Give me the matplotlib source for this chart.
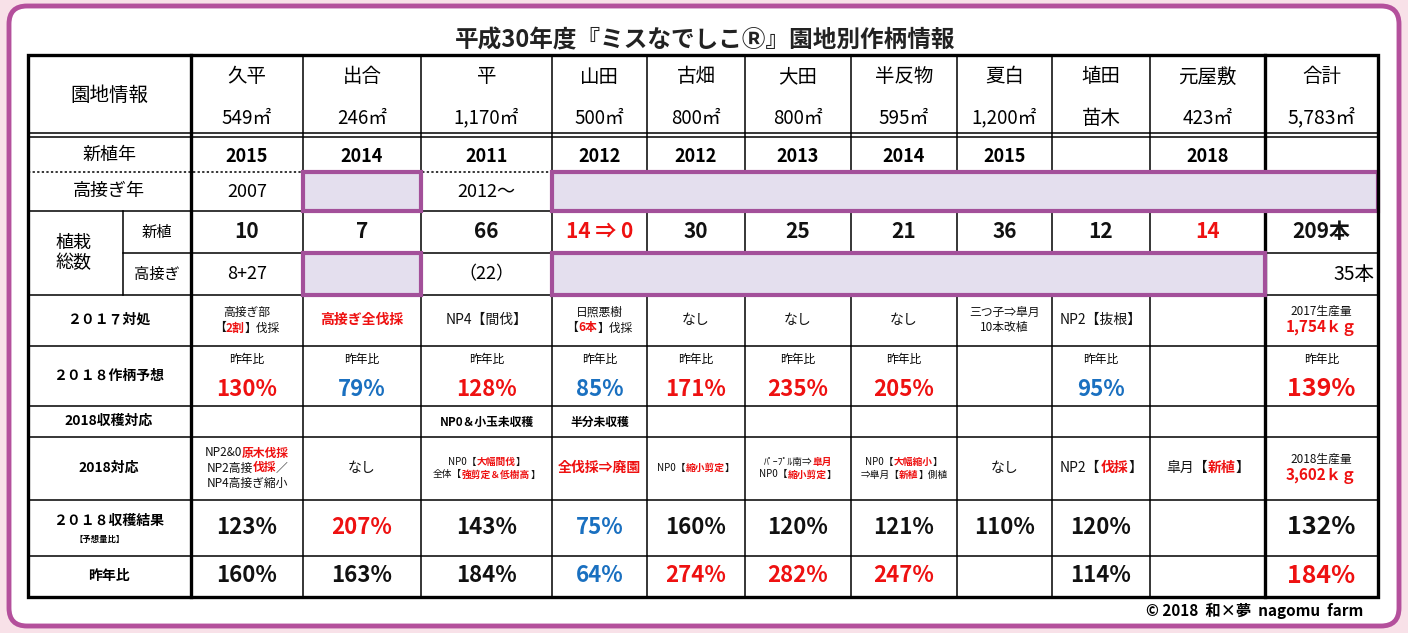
import matplotlib
matplotlib.use("Agg")
import matplotlib.pyplot as plt
from matplotlib.patches import FancyBboxPatch, Rectangle

plt.rcParams['font.family'] = ['Noto Sans CJK JP', 'DejaVu Sans']

R, B, K = '#ee1111', '#1a70c0', '#111111'

farms = ['久平', '出合', '平', '山田', '古畑', '大田', '半反物', '夏白', '埴田', '元屋敷', '合計']
areas = ['549㎡', '246㎡', '1,170㎡', '500㎡', '800㎡', '800㎡', '595㎡', '1,200㎡', '苗木', '423㎡', '5,783㎡']
plant_year = ['2015', '2014', '2011', '2012', '2012', '2013', '2014', '2015', '', '2018', '']
graft_year = ['2007', '', '2012～', '', '', '', '', '', '', '', '']
new_plants = ['10', '7', '66', '14 ⇒ 0', '30', '25', '21', '36', '12', '14', '209本']
new_colors = [K, K, K, R, K, K, K, K, K, R, K]
grafts = ['8+27', '', '（22）', '', '', '', '', '', '', '', '35本']
forecast = ['130%', '79%', '128%', '85%', '171%', '235%', '205%', '', '95%', '', '139%']
forecast_c = [R, B, R, B, R, R, R, K, B, K, R]
result = ['123%', '207%', '143%', '75%', '160%', '120%', '121%', '110%', '120%', '', '132%']
result_c = [K, R, K, B, K, K, K, K, K, K, K]
yoy = ['160%', '163%', '184%', '64%', '274%', '282%', '247%', '', '114%', '', '184%']
yoy_c = [K, K, K, B, R, R, R, K, K, K, R]
row_labels = ['新植年', '高接ぎ年', '２０１７対処', '２０１８作柄予想', '2018収穫対応', '2018対応', '２０１８収穫結果', '昨年比']

act2017 = [
    [[('高接ぎ部', K)], [('【', K), ('2割', R), ('】伐採', K)]],
    [[('高接ぎ全伐採', R)]],
    [[('NP4【間伐】', K)]],
    [[('日照悪樹', K)], [('【', K), ('6本', R), ('】伐採', K)]],
    [[('なし', K)]], [[('なし', K)]], [[('なし', K)]],
    [[('三つ子⇒皐月', K)], [('10本改植', K)]],
    [[('NP2【抜根】', K)]],
    [],
    [[('2017生産量', K)], [('1,754ｋｇ', R)]],
]
harvest2018 = ['', '', 'NP0＆小玉未収穫', '半分未収穫', '', '', '', '', '', '', '']
act2018 = [
    [[('NP2&0', K), ('原木伐採', R)], [('NP2高接', K), ('伐採', R), ('／', K)], [('NP4高接ぎ縮小', K)]],
    [[('なし', K)]],
    [[('NP0【', K), ('大幅間伐', R), ('】', K)], [('全体【', K), ('強剪定＆低樹高', R), ('】', K)]],
    [[('全伐採⇒廃園', R)]],
    [[('NP0【', K), ('縮小剪定', R), ('】', K)]],
    [[('ﾊﾟｰﾌﾟﾙ南⇒', K), ('皐月', R)], [('NP0【', K), ('縮小剪定', R), ('】', K)]],
    [[('NP0【', K), ('大幅縮小', R), ('】', K)], [('⇒皐月【', K), ('新植', R), ('】側植', K)]],
    [[('なし', K)]],
    [[('NP2【', K), ('伐採', R), ('】', K)]],
    [[('皐月【', K), ('新植', R), ('】', K)]],
    [[('2018生産量', K)], [('3,602ｋｇ', R)]],
]

W, H = 1408, 633
fig = plt.figure(figsize=(W / 100, H / 100), dpi=100, facecolor='#f8e1e8')
ax = fig.add_axes([0, 0, 1, 1])
ax.set_xlim(0, W); ax.set_ylim(H, 0); ax.axis('off')
ax.add_patch(FancyBboxPatch((9, 6), W - 18, H - 13, boxstyle='round,pad=0,rounding_size=18',
                            fc='white', ec='#b4509c', lw=3.5))
fig.canvas.draw()
rend = fig.canvas.get_renderer()

def seg_text(x, y, segs, size, weight='normal', ha='center'):
    ts, widths = [], []
    for s, c in segs:
        w = 'bold' if (weight == 'bold' or c == R) else 'normal'
        t = ax.text(0, y, s, fontsize=size, color=c, weight=w, va='center', ha='left')
        widths.append(t.get_window_extent(rend).width)
        ts.append(t)
    tot = sum(widths)
    x0 = x - tot / 2 if ha == 'center' else (x - tot if ha == 'right' else x)
    for t, w in zip(ts, widths):
        t.set_x(x0); x0 += w

def lines_text(x, yc, lines, size, weight='normal', gap=15, sizes=None):
    n = len(lines)
    for i, ln in enumerate(lines):
        seg_text(x, yc + (i - (n - 1) / 2) * gap, ln, sizes[i] if sizes else size, weight)

ax.text(705, 40, '平成30年度『ミスなでしこⓇ』園地別作柄情報', fontsize=17, weight='bold',
        ha='center', va='center', color='#222')

cols = [191, 303, 421, 552, 647, 745, 851, 957, 1052, 1150, 1265, 1378]
L, T, Bt = 28, 55, 597
rows = [133, 137, 172, 211, 253, 295, 346, 406, 437, 500, 556]
cx = [(cols[i] + cols[i + 1]) / 2 for i in range(11)]

for (x0, y0, x1, y1) in [(303, 172, 421, 211), (552, 172, 1378, 211), (303, 253, 421, 295), (552, 253, 1265, 295)]:
    ax.add_patch(Rectangle((x0, y0), x1 - x0, y1 - y0, fc='#e4dfee', ec='#a3509a', lw=3, zorder=3))

lk = dict(color='black', lw=1.1, zorder=2)
for y in rows:
    if y == 172:
        ax.plot([L, 1378], [y, y], ls=(0, (1.5, 1.5)), color='black', lw=1.1, zorder=2)
    elif y == 253:
        ax.plot([123, 1378], [y, y], **lk)
    else:
        ax.plot([L, 1378], [y, y], **lk)
for x in cols[1:-1]:
    lw = 2.4 if x == 1265 else 1.1
    ax.plot([x, x], [T, Bt], color='black', lw=lw, zorder=2)
ax.plot([191, 191], [T, Bt], color='black', lw=2.4, zorder=2)
ax.plot([123, 123], [211, 295], **lk)
ax.add_patch(Rectangle((L, T), 1378 - L, Bt - T, fc='none', ec='black', lw=2.4, zorder=4))

ax.text(109, 95, '園地情報', fontsize=14, ha='center', va='center')
for i in range(11):
    ax.text(cx[i], 77, farms[i], fontsize=14, ha='center', va='center')
    ax.text(cx[i], 118, areas[i], fontsize=14 if i in (8, 10) else 13.5, ha='center', va='center')

rl_y = [155, 191, 320, 376, 421, 468, 521, 576]
for lab, y in zip(row_labels, rl_y):
    wt = 'normal' if lab in ('新植年', '高接ぎ年') else 'bold'
    sz = 13 if wt == 'normal' else 10
    ax.text(109, y, lab, fontsize=sz, weight=wt, ha='center', va='center')
ax.text(100, 539, '【予想量比】', fontsize=6, weight='bold', ha='center', va='center')
ax.text(74, 253, '植栽\n総数', fontsize=13, ha='center', va='center', linespacing=1.1)
ax.text(157, 232, '新植', fontsize=11, ha='center', va='center')
ax.text(157, 274, '高接ぎ', fontsize=11, ha='center', va='center')

for i in range(11):
    ax.text(cx[i], 156, plant_year[i], fontsize=13, weight='bold', ha='center', va='center')
    if graft_year[i]:
        ax.text(cx[i], 192, graft_year[i], fontsize=13, ha='center', va='center')
    ax.text(cx[i], 232, new_plants[i], fontsize=15, weight='bold', color=new_colors[i], ha='center', va='center')
    if grafts[i]:
        if i == 10:
            ax.text(1374, 274, grafts[i], fontsize=14, ha='right', va='center')
        else:
            ax.text(cx[i], 274, grafts[i], fontsize=13, ha='center', va='center')
    if act2017[i]:
        if i == 10:
            lines_text(cx[i], 320, act2017[i], 9, gap=17, sizes=[8.5, 11])
        else:
            big = len(act2017[i]) == 1
            lines_text(cx[i], 320, act2017[i], 10 if big else 8.5, gap=16)
    if forecast[i]:
        ax.text(cx[i], 359, '昨年比', fontsize=8.5, ha='center', va='center')
        ax.text(cx[i], 389, forecast[i], fontsize=18 if i == 10 else 16, weight='bold',
                color=forecast_c[i], ha='center', va='center')
    if harvest2018[i]:
        ax.text(cx[i], 422, harvest2018[i], fontsize=8.5, weight='bold', ha='center', va='center')
    small = any(len(l) > 1 for l in act2018[i]) and i not in (8, 9)
    if i == 10:
        lines_text(cx[i], 468, act2018[i], 9, gap=17, sizes=[8.5, 11])
    elif i == 0:
        lines_text(cx[i], 468, act2018[i], 8.5, gap=15)
    else:
        lines_text(cx[i], 468, act2018[i], 7 if small else 10, gap=13)
    if result[i]:
        ax.text(cx[i], 527, result[i], fontsize=18 if i == 10 else 16, weight='bold', color=result_c[i], ha='center', va='center')
    if yoy[i]:
        ax.text(cx[i], 576, yoy[i], fontsize=18 if i == 10 else 16, weight='bold', color=yoy_c[i], ha='center', va='center')

ax.text(1255, 611, '© 2018  和×夢  nagomu  farm', fontsize=11, weight='bold', ha='center', va='center')

fig.savefig('out.png', dpi=100, facecolor=fig.get_facecolor())
